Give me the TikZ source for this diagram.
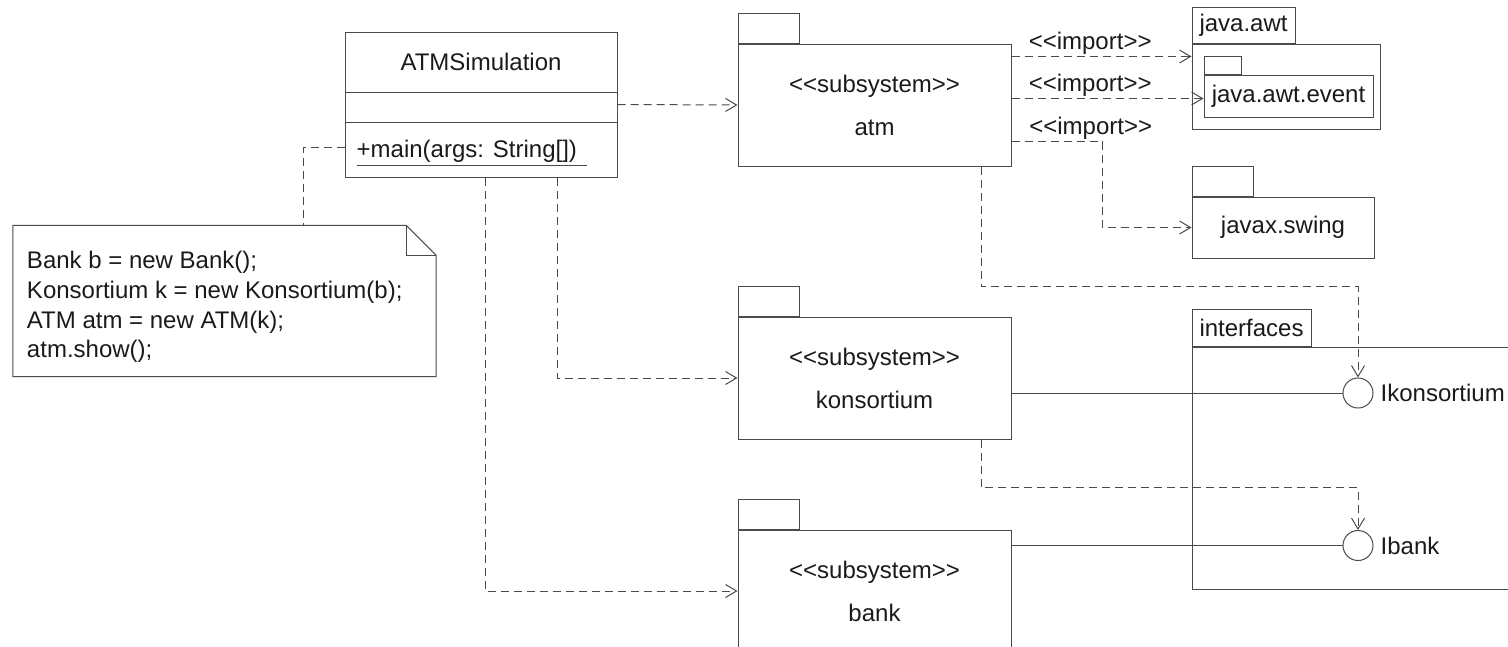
\documentclass[tikz,border=0pt]{standalone}
\usepackage{fontspec}
\setmainfont{Liberation Sans}
\usetikzlibrary{arrows.meta,positioning}
\definecolor{umlline}{RGB}{72,76,72}
\definecolor{umltext}{RGB}{24,28,24}
\newcommand{\stereo}[1]{<{}<#1>{}>}

\begin{document}
\begin{tikzpicture}[
    x=1pt, y=-1pt,
    every node/.style={font=\fontsize{24}{29.7}\selectfont, text=umltext},
    pkg/.style={draw=umlline, line width=1pt, minimum width=273pt, minimum height=122pt, inner sep=0pt},
    pkgtab/.style={draw=umlline, line width=1pt, anchor=south west, minimum width=61pt, minimum height=30pt, inner sep=0pt},
    pkgname/.style={draw=umlline, line width=1pt, anchor=south west, minimum height=36pt, inner xsep=7.5pt, inner ysep=0pt},
    subsys/.style={align=center, font=\fontsize{24}{43}\selectfont},
    dep/.style={umlline, line width=1pt, dash pattern=on 8pt off 5pt, -{Straight Barb[length=11pt,width=13pt]}},
    notelink/.style={umlline, line width=1pt, dash pattern=on 8pt off 5pt},
    link/.style={umlline, line width=1pt},
    lbl/.style={above, inner sep=1.5pt},
    lollipop/.style={circle, draw=umlline, line width=1pt, minimum size=30pt, inner sep=0pt}
]
\path[use as bounding box] (0,0) rectangle (1508,646);
\clip (0,0) rectangle (1508,646);

% main class and its note
\node (cls) [draw=umlline, line width=1pt, minimum width=272pt, minimum height=145pt] at (481,104.5) {};
\draw[link] ([yshift=-61pt]cls.north west) -- ([yshift=-61pt]cls.north east);
\draw[link] ([yshift=-91pt]cls.north west) -- ([yshift=-91pt]cls.north east);
\node (clsname) [below=0pt of cls.north, minimum height=61pt, inner sep=0pt] {ATMSimulation};
\node (mainop) [anchor=base west, inner sep=0pt] at ([xshift=12pt, yshift=20pt]cls.south west) {+main(args: String[])};
\draw[link] ([yshift=-8pt]mainop.base west) -- ++(230,0);

\node (note) [minimum width=423pt, minimum height=151pt, inner sep=0pt] at (224.5,301) {};
\draw[link] (note.north west) -- ([xshift=-30pt]note.north east) -- ([yshift=-30pt]note.north east) -- (note.south east) -- (note.south west) -- cycle;
\draw[link] ([xshift=-30pt]note.north east) |- ([yshift=-30pt]note.north east);
\node (notetext) [anchor=west, align=left, inner sep=0pt] at ([xshift=14pt, yshift=-6pt]note.west) {Bank b = new Bank();\\Konsortium k = new Konsortium(b);\\ATM atm = new ATM(k);\\atm.show();};

% subsystems
\node (atm) [pkg, subsys] at (874.5,105) {\stereo{subsystem}\\atm};
\node (kons) [pkg, subsys, below=150pt of atm] {\stereo{subsystem}\\konsortium};
\node (bank) [pkg, subsys, below=90pt of kons] {\stereo{subsystem}\\bank};
\node (atmtab) [pkgtab] at (atm.north west) {};
\node (konstab) [pkgtab] at (kons.north west) {};
\node (banktab) [pkgtab] at (bank.north west) {};

% libraries
\node (awt) [pkg, minimum width=188pt, minimum height=85pt] at (1286,86.5) {};
\node (awttab) [pkgname] at (awt.north west) {java.awt};
\node (awtevt) [pkg, minimum width=169pt, minimum height=42pt] at (1288.5,96) {java.awt.event};
\node (awtevttab) [pkgtab, minimum width=37pt, minimum height=18pt] at (awtevt.north west) {};
\node (swing) [pkg, minimum width=182pt, minimum height=61pt, below right=67pt and 0pt of awt.south west] {javax.swing};
\node (swingtab) [pkgtab] at (swing.north west) {};

% interfaces
\node (ifc) [pkg, minimum width=400pt, minimum height=242pt] at (1392,468) {};
\node (ifctab) [pkgname, minimum height=37pt] at (ifc.north west) {interfaces};
\node (ikons) [lollipop] at (1358,393) {};
\node (ibank) [lollipop] at (1358,545.5) {};
\node (ikonslbl) [right=7pt of ikons, inner sep=0pt] {Ikonsortium};
\node (ibanklbl) [right=7pt of ibank, inner sep=0pt] {Ibank};

% dependencies
\draw[notelink] ([yshift=-42.5pt]cls.west) -| ([xshift=78.5pt]note.north);
\draw[dep] (cls.east) -- (atm.west);
\draw[dep] ([xshift=76pt]cls.south) |- (kons.west);
\draw[dep] ([xshift=4pt]cls.south) |- (bank.west);

\coordinate (imp1) at ([yshift=-13pt]atm.north east);
\coordinate (imp2) at ([yshift=-55pt]atm.north east);
\coordinate (imp3) at ([yshift=-98pt]atm.north east);
\draw[dep] (imp1) -- node[lbl, pos=0.437] {\stereo{import}} (imp1 -| awt.west);
\draw[dep] (imp2) -- node[lbl, pos=0.41] {\stereo{import}} (imp2 -| awtevt.west);
\draw[dep] (imp3) -- node[lbl, pos=0.87] {\stereo{import}} ++(91,0) |- (swing.west);

\draw[dep] ([xshift=106.5pt]atm.south) -- ++(0,120) -| (ikons.north);
\draw[dep] ([xshift=106.5pt]kons.south) -- ++(0,48) -| (ibank.north);
\draw[link] (kons.east |- ikons) -- (ikons.west);
\draw[link] (bank.east |- ibank) -- (ibank.west);
\end{tikzpicture}
\end{document}
